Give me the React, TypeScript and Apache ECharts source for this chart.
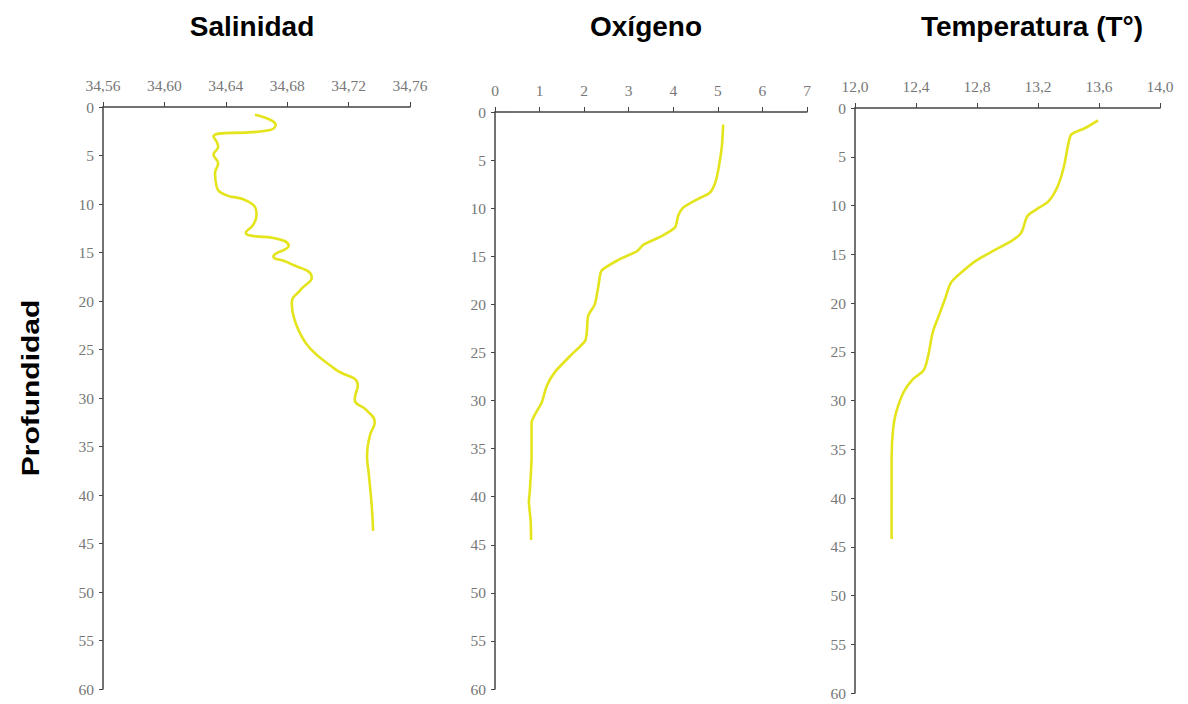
import { useEffect, useRef } from "react";
import * as echarts from "echarts";

// Salinidad profile (value, depth)
const salinityValue = [34.659, 34.6725, 34.668, 34.632, 34.635, 34.632, 34.635, 34.633, 34.634, 34.639, 34.654, 34.66, 34.658, 34.653, 34.658, 34.671, 34.681, 34.671, 34.68, 34.696, 34.689, 34.683, 34.684, 34.688, 34.695, 34.711, 34.726, 34.724, 34.732, 34.737, 34.734, 34.732, 34.733, 34.735, 34.736];
const salinityDepth = [0.8, 1.85, 2.4, 3.05, 4.1, 4.9, 5.8, 6.8, 8.2, 9.0, 9.7, 10.9, 12.1, 13.0, 13.3, 13.5, 14.3, 15.4, 16.0, 17.6, 18.8, 20.2, 21.5, 23.2, 24.9, 27.0, 28.7, 30.1, 31.3, 32.5, 33.8, 36.0, 37.6, 41.0, 43.7];

// Oxígeno profile
const oxygenValue = [5.12, 5.09, 5.01, 4.94, 4.82, 4.53, 4.22, 4.11, 4.04, 3.74, 3.33, 3.18, 2.8, 2.39, 2.32, 2.24, 2.09, 2.06, 2.02, 1.68, 1.35, 1.16, 1.05, 0.94, 0.82, 0.82, 0.78, 0.76, 0.8, 0.81];
const oxygenDepth = [1.3, 3.55, 6.0, 7.35, 8.4, 9.1, 9.96, 10.8, 12.0, 12.9, 13.8, 14.5, 15.3, 16.5, 18.1, 20.0, 21.2, 22.9, 23.8, 25.4, 27.0, 28.5, 30.2, 31.1, 32.3, 35.9, 39.5, 40.5, 42.5, 44.5];

// Temperatura profile
const temperatureValue = [13.594, 13.51, 13.42, 13.4, 13.37, 13.33, 13.27, 13.19, 13.13, 13.09, 13.03, 12.9, 12.79, 12.71, 12.63, 12.59, 12.55, 12.51, 12.48, 12.45, 12.38, 12.32, 12.27, 12.25, 12.24, 12.24];
const temperatureDepth = [1.27, 2.05, 2.7, 3.6, 6.0, 8.0, 9.55, 10.4, 11.1, 12.8, 13.6, 14.7, 15.7, 16.7, 17.9, 19.6, 21.3, 23.0, 25.4, 26.9, 27.8, 29.1, 31.2, 32.9, 35.8, 44.2];

const titles = ["Salinidad", "Oxígeno", "Temperatura (T°)"];
const yAxisName = "Profundidad";

const salinityAxis = { min: 34.56, max: 34.76, interval: 0.04, decimals: 2 };
const oxygenAxis = { min: 0, max: 7, interval: 1, decimals: 0 };
const temperatureAxis = { min: 12.0, max: 14.0, interval: 0.4, decimals: 1 };
const depthAxis = { min: 0, max: 60, interval: 5 };

const LINE_COLOR = "#e4e41c";
const AXIS_COLOR = "#444";
const LABEL_COLOR = "#777";
const SERIF = "'Liberation Serif', 'DejaVu Serif', serif";
const SANS = "'Liberation Sans', Arial, sans-serif";

function pairs(xs: number[], ys: number[]) {
  return xs.map((x, i) => [x, ys[i]]);
}

export default function App() {
  const ref = useRef<HTMLDivElement>(null);

  useEffect(() => {
    if (!ref.current) return;
    const chart = echarts.init(ref.current, undefined, { renderer: "svg" });

    const grids = [
      { left: 103, top: 107, width: 307, height: 582 },
      { left: 495, top: 112, width: 312, height: 577 },
      { left: 855, top: 108, width: 305, height: 585 },
    ];
    const xDefs = [salinityAxis, oxygenAxis, temperatureAxis];

    const xAxes = xDefs.map((d, i) => ({
      type: "value",
      gridIndex: i,
      position: "top",
      min: d.min,
      max: d.max,
      interval: d.interval,
      axisLine: { show: true, lineStyle: { color: AXIS_COLOR, width: 1.5 } },
      axisTick: { show: true, inside: false, length: 5, lineStyle: { color: AXIS_COLOR } },
      splitLine: { show: false },
      axisLabel: {
        color: LABEL_COLOR,
        fontFamily: SERIF,
        fontSize: 15.5,
        margin: 14,
        formatter: (v: number) => v.toFixed(d.decimals).replace(".", ","),
      },
    }));

    const yAxes = [0, 1, 2].map((i) => ({
      type: "value",
      gridIndex: i,
      inverse: true,
      min: depthAxis.min,
      max: depthAxis.max,
      interval: depthAxis.interval,
      axisLine: { show: true, onZero: false, lineStyle: { color: AXIS_COLOR, width: 1.5 } },
      axisTick: { show: true, inside: false, length: 4, lineStyle: { color: AXIS_COLOR } },
      splitLine: { show: false },
      axisLabel: {
        color: LABEL_COLOR,
        fontFamily: SERIF,
        fontSize: 15.5,
        margin: 9,
      },
    }));

    const seriesData = [
      pairs(salinityValue, salinityDepth),
      pairs(oxygenValue, oxygenDepth),
      pairs(temperatureValue, temperatureDepth),
    ];
    const smooths = [0.5, 0.2, 0.3];

    const series = seriesData.map((data, i) => ({
      type: "line",
      xAxisIndex: i,
      yAxisIndex: i,
      data,
      smooth: smooths[i],
      showSymbol: false,
      symbol: "none",
      lineStyle: { color: LINE_COLOR, width: 2.6 },
    }));

    const titleCenters = [252, 646, 1032];
    const graphic: any[] = titles.map((t, i) => ({
      type: "text",
      x: titleCenters[i],
      y: 26,
      style: {
        text: t,
        fontFamily: SANS,
        fontWeight: "bold",
        fontSize: 28,
        fill: "#000",
        align: "center",
        verticalAlign: "middle",
      },
    }));
    graphic.push({
      type: "text",
      x: 31,
      y: 388,
      rotation: Math.PI / 2,
      scaleX: 1.25,
      style: {
        text: yAxisName,
        fontFamily: SANS,
        fontWeight: "bold",
        fontSize: 24,
        fill: "#000",
        align: "center",
        verticalAlign: "middle",
      },
    });

    chart.setOption({
      animation: false,
      backgroundColor: "#ffffff",
      grid: grids,
      xAxis: xAxes,
      yAxis: yAxes,
      series,
      graphic,
    });

    return () => chart.dispose();
  }, []);

  return (
    <div
      ref={ref}
      style={{ position: "fixed", left: 0, top: 0, width: 1188, height: 704 }}
    />
  );
}
